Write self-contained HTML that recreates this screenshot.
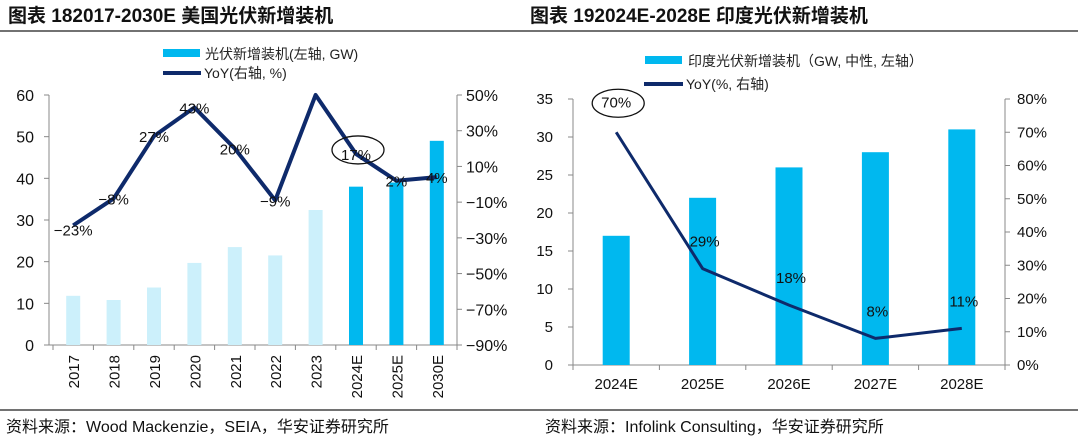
<!DOCTYPE html>
<html><head><meta charset="utf-8"><style>
body{margin:0;background:#fff;width:1080px;height:438px;overflow:hidden}
svg text{font-family:"Liberation Sans","Noto Sans CJK SC",sans-serif}
</style></head><body>
<svg id="s" width="1080" height="438" xmlns="http://www.w3.org/2000/svg">
<text x="8" y="22" font-size="19" font-weight="bold" fill="#111">图表 182017-2030E 美国光伏新增装机</text>
<text x="530" y="22" font-size="19" font-weight="bold" fill="#111">图表 192024E-2028E 印度光伏新增装机</text>
<line x1="0" y1="31" x2="1078" y2="31" stroke="#444" stroke-width="1.5"/>
<line x1="0" y1="410" x2="1078" y2="410" stroke="#444" stroke-width="1.5"/>
<text x="6" y="432" font-size="16" fill="#111">资料来源：Wood Mackenzie，SEIA，华安证券研究所</text>
<text x="545" y="432" font-size="16" fill="#111">资料来源：Infolink Consulting，华安证券研究所</text>
<g id="L"></g><g id="R"></g>
</svg>
<script>
const usCats=["2017","2018","2019","2020","2021","2022","2023","2024E","2025E","2030E"];
const usGW=[11.8,10.8,13.8,19.7,23.5,21.5,32.4,38,39,49];
const usYoY=[-23,-8,27,43,20,-9,50,17,2,4];
const usYoYLabels=["-23%","-8%","27%","43%","20%","-9%","","17%","2%","4%"];
const usLeftTicks=[0,10,20,30,40,50,60];
const usRightTicks=[-90,-70,-50,-30,-10,10,30,50];
const inCats=["2024E","2025E","2026E","2027E","2028E"];
const inGW=[17,22,26,28,31];
const inYoY=[70,29,18,8,11];
const inLeftTicks=[0,5,10,15,20,25,30,35];
const inRightTicks=[0,10,20,30,40,50,60,70,80];
const NS="http://www.w3.org/2000/svg";
function mk(p,t,a,txt){const e=document.createElementNS(NS,t);for(const k in a)e.setAttribute(k,a[k]);if(txt!==undefined)e.textContent=txt;p.appendChild(e);return e;}
// US chart
(function(){
const g=document.getElementById('L');
const x0=53,x1=457,yTop=95,yBot=345;
const band=(x1-x0)/usCats.length;
const xc=i=>x0+band*(i+0.5);
const yL=v=>yBot-(v/60)*(yBot-yTop);
const yR=v=>yBot-((v+90)/140)*(yBot-yTop);
let e;
e=mk(g,'line',{x1:x0-4,y1:yTop,x2:x0-4,y2:yBot,stroke:'#888'});

e=mk(g,'line',{x1:x1,y1:yTop,x2:x1,y2:yBot,stroke:'#888'});

e=mk(g,'line',{x1:x0-4,y1:yBot,x2:x1,y2:yBot,stroke:'#888'});

usLeftTicks.forEach(v=>{mk(g,'line',{x1:x0-9,y1:yL(v),x2:x0-4,y2:yL(v),stroke:'#888'});
e=mk(g,'text',{x:34,y:yL(v)+6,'font-size':16,'text-anchor':'end',fill:'#111'},v);
});
usRightTicks.forEach(v=>{mk(g,'line',{x1:x1,y1:yR(v),x2:x1+5,y2:yR(v),stroke:'#888'});
e=mk(g,'text',{x:466,y:yR(v)+6,'font-size':16,fill:'#111'},(v<0?'\u2212':'')+Math.abs(v)+'%');
});
for(let i=0;i<=usCats.length;i++)mk(g,'line',{x1:x0+band*i,y1:yBot,x2:x0+band*i,y2:yBot+5,stroke:'#888'});
usCats.forEach((c,i)=>{
e=mk(g,'rect',{x:xc(i)-7,y:yL(usGW[i]),width:14,height:yBot-yL(usGW[i]),fill:i>=7?'#00b8ef':'#ccf0fb'});

e=mk(g,'text',{transform:`translate(${xc(i)+6},355) rotate(-90)`,'font-size':15,'text-anchor':'end',fill:'#111'},c);
});
e=mk(g,'polyline',{points:usYoY.map((v,i)=>xc(i)+','+yR(v)).join(' '),fill:'none',stroke:'#0e2a6b','stroke-width':4,'stroke-linejoin':'round'});

usYoYLabels.forEach((l,i)=>{if(!l)return;
e=mk(g,'text',{x:xc(i),y:yR(usYoY[i])+(i===0?10:6),'font-size':15,'text-anchor':'middle',fill:'#111'},l.replace('-','\u2212'));
});
e=mk(g,'ellipse',{cx:xc(7)+2,cy:yR(usYoY[7])-4,rx:26,ry:14,fill:'none',stroke:'#111','stroke-width':1.3});

e=mk(g,'rect',{x:163,y:49,width:37,height:8,fill:'#00b8ef'});

e=mk(g,'text',{x:205,y:59,'font-size':14,fill:'#222'},'光伏新增装机(左轴, GW)');

e=mk(g,'line',{x1:163,y1:73,x2:201,y2:73,stroke:'#0e2a6b','stroke-width':4});

e=mk(g,'text',{x:204,y:78,'font-size':14,fill:'#222'},'YoY(右轴, %)');

})();
// India chart
(function(){
const g=document.getElementById('R');
const x0=573,x1=1005,yTop=99,yBot=365;
const band=(x1-x0)/inCats.length;
const xc=i=>x0+band*(i+0.5);
const yL=v=>yBot-(v/35)*(yBot-yTop);
const yR=v=>yBot-(v/80)*(yBot-yTop);
let e;
e=mk(g,'line',{x1:x0,y1:yTop,x2:x0,y2:yBot,stroke:'#888'});

e=mk(g,'line',{x1:x1,y1:yTop,x2:x1,y2:yBot,stroke:'#888'});

e=mk(g,'line',{x1:x0,y1:yBot,x2:x1,y2:yBot,stroke:'#888'});

inLeftTicks.forEach(v=>{mk(g,'line',{x1:x0-5,y1:yL(v),x2:x0,y2:yL(v),stroke:'#888'});
e=mk(g,'text',{x:553,y:yL(v)+5,'font-size':15,'text-anchor':'end',fill:'#111'},v);
});
inRightTicks.forEach(v=>{mk(g,'line',{x1:x1,y1:yR(v),x2:x1+5,y2:yR(v),stroke:'#888'});
e=mk(g,'text',{x:1017,y:yR(v)+5,'font-size':15,fill:'#111'},v+'%');
});
for(let i=0;i<=inCats.length;i++)mk(g,'line',{x1:x0+band*i,y1:yBot,x2:x0+band*i,y2:yBot+5,stroke:'#888'});
inCats.forEach((c,i)=>{
e=mk(g,'rect',{x:xc(i)-13.5,y:yL(inGW[i]),width:27,height:yBot-yL(inGW[i]),fill:'#00b8ef'});

e=mk(g,'text',{x:xc(i),y:389,'font-size':15,'text-anchor':'middle',fill:'#111'},c);
});
e=mk(g,'polyline',{points:inYoY.map((v,i)=>xc(i)+','+yR(v)).join(' '),fill:'none',stroke:'#0e2a6b','stroke-width':3,'stroke-linejoin':'round'});

inYoY.forEach((v,i)=>{
const y=i===0?yR(v)-25:yR(v)-22;
e=mk(g,'text',{x:xc(i)+(i===0?0:2),y:y,'font-size':15,'text-anchor':'middle',fill:'#111'},v+'%');
});
e=mk(g,'ellipse',{cx:xc(0)+2,cy:yR(inYoY[0])-29,rx:26,ry:14,fill:'none',stroke:'#111','stroke-width':1.3});

e=mk(g,'rect',{x:645,y:56,width:37,height:8,fill:'#00b8ef'});

e=mk(g,'text',{x:688,y:66,'font-size':14,fill:'#222'},'印度光伏新增装机（GW, 中性, 左轴）');

e=mk(g,'line',{x1:644,y1:84,x2:683,y2:84,stroke:'#0e2a6b','stroke-width':4});

e=mk(g,'text',{x:686,y:89,'font-size':14,fill:'#222'},'YoY(%, 右轴)');

})();
</script>
</body></html>
